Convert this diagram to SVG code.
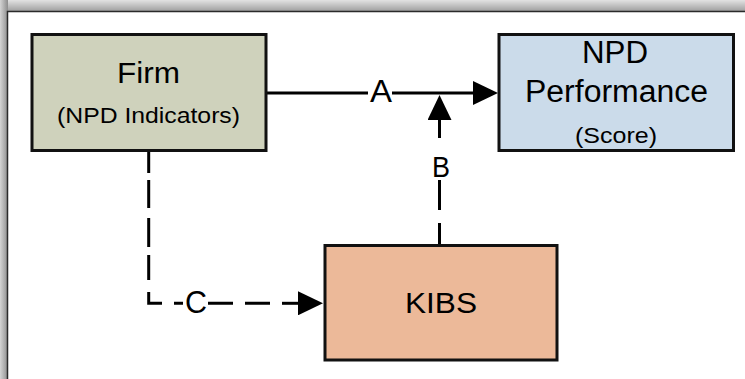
<svg xmlns="http://www.w3.org/2000/svg" width="745" height="379" viewBox="0 0 745 379">
  <defs>
    <linearGradient id="gTop" x1="0" y1="0" x2="0" y2="1">
      <stop offset="0" stop-color="#e2e2e2"/>
      <stop offset="1" stop-color="#a0a0a0"/>
    </linearGradient>
    <linearGradient id="gLeft" x1="0" y1="0" x2="1" y2="0">
      <stop offset="0" stop-color="#d4d4d4"/>
      <stop offset="1" stop-color="#8c8c8c"/>
    </linearGradient>
    <marker id="arrow" markerUnits="userSpaceOnUse" viewBox="0 0 25 24" refX="0" refY="12" markerWidth="25" markerHeight="24" orient="auto">
      <path d="M0,0 L25,12 L0,24 Z" fill="#000"/>
    </marker>
    <style>
      .box { stroke: #111; stroke-width: 3; }
      .lbl { font-family: "Liberation Sans", Arial, sans-serif; fill: #000; text-anchor: middle; }
      .conn { stroke: #000; stroke-width: 3; fill: none; }
    </style>
  </defs>

  <rect x="0" y="0" width="745" height="379" fill="#ffffff"/>
  <rect x="0" y="0" width="745" height="11" fill="url(#gTop)"/>
  <rect x="0" y="0" width="8" height="379" fill="url(#gLeft)"/>
  <path d="M7.5,379 L7.5,11.5 L745,11.5" fill="none" stroke="#2a2a2a" stroke-width="1.5"/>

  <g id="connectors">
    <path class="conn" d="M266,93 L368,93 M392,93 L473,93" marker-end="url(#arrow)"/>
    <path class="conn" d="M439.5,244 L439.5,223 M439.5,210 L439.5,180"/>
    <path class="conn" d="M439.5,138 L439.5,120" marker-end="url(#arrow)"/>
    <path class="conn" d="M148.7,152 L148.7,173 M148.7,180 L148.7,208 M148.7,218 L148.7,247 M148.7,255 L148.7,280 M148.7,292 L148.7,303.3 L162,303.3 M174,303.3 L183,303.3 M208,303.3 L233,303.3 M245,303.3 L270,303.3"/>
    <path class="conn" d="M282,303.3 L298,303.3" marker-end="url(#arrow)"/>
    <text class="lbl" x="381" y="102" font-size="31" textLength="22" lengthAdjust="spacingAndGlyphs">A</text>
    <text class="lbl" x="441" y="177" font-size="29" textLength="18" lengthAdjust="spacingAndGlyphs">B</text>
    <text class="lbl" x="196" y="313" font-size="31" textLength="22" lengthAdjust="spacingAndGlyphs">C</text>
  </g>

  <g id="firm">
    <rect class="box" x="32" y="34.5" width="234" height="116" fill="#CFD2BC"/>
    <text class="lbl" x="148.5" y="83" font-size="30" textLength="63" lengthAdjust="spacingAndGlyphs">Firm</text>
    <text class="lbl" x="148.5" y="123" font-size="22" textLength="183" lengthAdjust="spacingAndGlyphs">(NPD Indicators)</text>
  </g>

  <g id="npd-performance">
    <rect class="box" x="499" y="34.5" width="234.5" height="116" fill="#CBDBEA"/>
    <text class="lbl" x="615" y="63" font-size="31" textLength="66" lengthAdjust="spacingAndGlyphs">NPD</text>
    <text class="lbl" x="616.5" y="102" font-size="31" textLength="183" lengthAdjust="spacingAndGlyphs">Performance</text>
    <text class="lbl" x="616" y="143" font-size="22" textLength="82" lengthAdjust="spacingAndGlyphs">(Score)</text>
  </g>

  <g id="kibs">
    <rect class="box" x="325" y="245.5" width="232" height="114.5" fill="#ECB999"/>
    <text class="lbl" x="441" y="313" font-size="29" textLength="72" lengthAdjust="spacingAndGlyphs">KIBS</text>
  </g>
</svg>
